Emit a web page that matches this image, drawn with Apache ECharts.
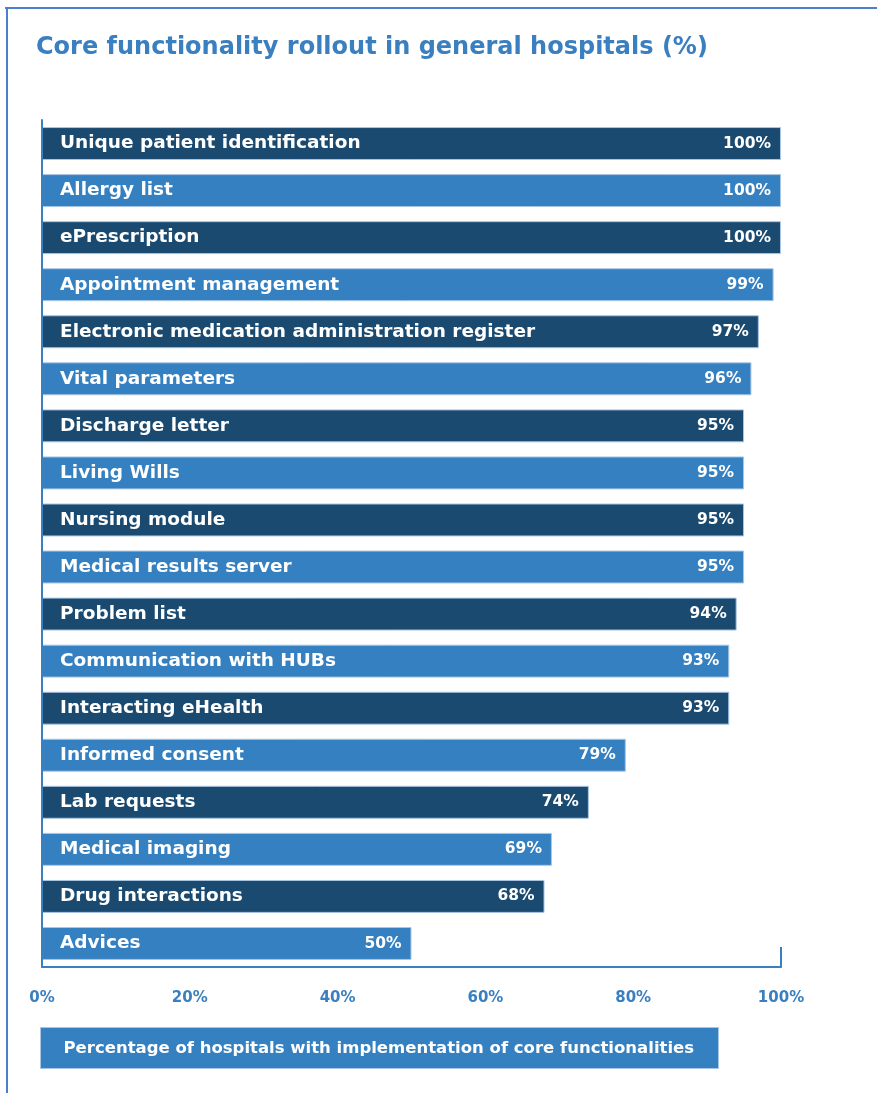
<!DOCTYPE html>
<html>
<head>
<meta charset="utf-8">
<script src="https://cdn.jsdelivr.net/npm/echarts@6/dist/echarts.min.js"></script>
<style>
  html, body { margin: 0; padding: 0; background: #fff; }
  #main { width: 877px; height: 1093px; }
</style>
</head>
<body>
<div id="main"></div>
<script>
// categories, top to bottom
var categories = [
  'Unique patient identification', 'Allergy list', 'ePrescription',
  'Appointment management', 'Electronic medication administration register',
  'Vital parameters', 'Discharge letter', 'Living Wills', 'Nursing module',
  'Medical results server', 'Problem list', 'Communication with HUBs',
  'Interacting eHealth', 'Informed consent', 'Lab requests',
  'Medical imaging', 'Drug interactions', 'Advices'
];
var values = [100, 100, 100, 99, 97, 96, 95, 95, 95, 95, 94, 93, 93, 79, 74, 69, 68, 50];
var xTicks = [0, 20, 40, 60, 80, 100];

var dark = '#1b4a70';
var light = '#3580c0';
var textBlue = '#3a7fc0';
var font = '"DejaVu Sans"';

var chart = echarts.init(document.getElementById('main'));
var option = {
  backgroundColor: '#fff',
  animation: false,
  title: {
    text: 'Core functionality rollout in general hospitals (%)',
    left: 31,
    top: 31,
    textStyle: { color: textBlue, fontSize: 24, fontWeight: 'bold', fontFamily: font }
  },
  grid: { left: 42, top: 120, width: 739, height: 847 },
  xAxis: {
    type: 'value',
    min: 0,
    max: 100,
    interval: 20,
    splitLine: { show: false },
    axisLine: { show: true, lineStyle: { color: textBlue, width: 2 } },
    axisTick: { show: true, inside: true, length: 20, customValues: [100], lineStyle: { color: textBlue, width: 2 } },
    axisLabel: {
      margin: 24,
      color: textBlue,
      fontSize: 15,
      fontWeight: 'bold',
      fontFamily: font,
      customValues: xTicks,
      formatter: '{value}%'
    }
  },
  yAxis: {
    type: 'category',
    data: categories,
    inverse: true,
    z: 10,
    axisLine: { show: true, lineStyle: { color: textBlue, width: 2 } },
    axisTick: { show: false },
    axisLabel: {
      inside: true,
      margin: 18,
      color: '#fff',
      fontSize: 18.5,
      fontWeight: 'bold',
      fontFamily: font
    }
  },
  series: [{
    type: 'bar',
    data: values,
    barWidth: '70%',
    itemStyle: {
      color: function (p) { return p.dataIndex % 2 === 0 ? dark : light; },
      borderColor: '#a9c6e4',
      borderWidth: 1
    },
    label: {
      show: true,
      position: 'insideRight',
      distance: 10,
      color: '#fff',
      fontSize: 15.5,
      fontWeight: 'bold',
      fontFamily: font,
      formatter: '{c}%'
    }
  }],
  graphic: [
    // frame
    { type: 'line', shape: { x1: 5, y1: 8, x2: 877, y2: 8 }, style: { stroke: '#4a80c8', lineWidth: 2 } },
    { type: 'line', shape: { x1: 7, y1: 8, x2: 7, y2: 1093 }, style: { stroke: '#4a80c8', lineWidth: 2 } },
    // legend box
    {
      type: 'group',
      left: 40,
      top: 1027,
      children: [
        { type: 'rect', shape: { x: 0, y: 0, width: 678, height: 41 }, style: { fill: light, stroke: '#a9c6e4', lineWidth: 1 } },
        {
          type: 'text', x: 23, y: 21,
          style: {
            text: 'Percentage of hospitals with implementation of core functionalities',
            fill: '#fff', fontSize: 16.5, fontWeight: 'bold', fontFamily: font, verticalAlign: 'middle'
          }
        }
      ]
    }
  ]
};
chart.setOption(option);
</script>
</body>
</html>
